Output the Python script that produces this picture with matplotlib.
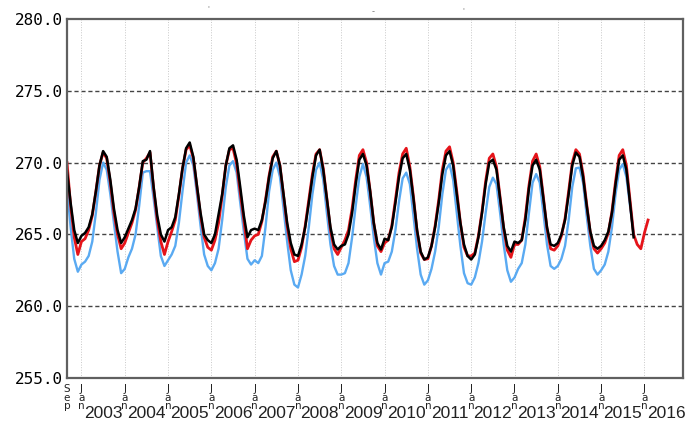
import matplotlib
matplotlib.use("Agg")
import matplotlib.pyplot as plt
import numpy as np

# monthly values, first point = Sep 2002
black_vals = [
    269.4, 267.2, 265.3, 264.4,
    264.9, 265.1, 265.5, 266.4, 268.0, 269.8, 270.8, 270.4, 268.8, 266.8, 265.3, 264.4,
    264.8, 265.4, 266.0, 266.8, 268.3, 270.1, 270.2, 270.8, 268.3, 266.3, 265.0, 264.5,
    265.3, 265.5, 266.2, 267.8, 269.6, 271.0, 271.4, 270.4, 268.4, 266.5, 265.0, 264.6,
    264.4, 265.0, 266.4, 267.8, 269.8, 271.0, 271.2, 270.2, 268.3, 266.3, 264.8, 265.3,
    265.4, 265.3, 266.0, 267.3, 269.0, 270.3, 270.8, 269.8, 267.8, 265.8, 264.4, 263.6,
    263.5, 264.3, 265.5, 267.2, 269.0, 270.5, 270.9, 269.5, 267.5, 265.5, 264.3, 263.95,
    264.2, 264.3, 265.0, 266.5, 268.5, 270.2, 270.6, 269.8, 268.0, 265.8, 264.4, 263.95,
    264.7, 264.6, 265.5, 267.2, 269.0, 270.3, 270.6, 269.5, 267.5, 265.3, 263.8, 263.25,
    263.4, 264.2, 265.5, 267.2, 269.2, 270.5, 270.8, 269.8, 267.8, 265.8, 264.3, 263.5,
    263.25, 263.6, 264.8, 266.5, 268.5, 270.0, 270.2, 269.5, 267.5, 265.5, 264.2, 263.8,
    264.5, 264.4, 264.6, 266.0, 268.2, 269.8, 270.2, 269.5, 267.5, 265.5, 264.3, 264.2,
    264.4, 265.0, 266.0, 267.8, 269.8, 270.7, 270.4, 269.0, 267.0, 265.2, 264.2, 264.0,
    264.2, 264.6, 265.2, 266.5, 268.5, 270.2, 270.5, 269.5, 267.2, 264.8,
]

red_vals = [
    270.0, 267.0, 264.8, 263.6,
    264.5, 264.7, 265.3, 266.3, 268.0, 269.8, 270.7, 270.3, 268.6, 266.5, 265.0, 264.0,
    264.4, 265.1, 265.8, 266.7, 268.3, 270.0, 270.3, 270.7, 268.2, 266.0, 264.5, 263.6,
    264.5, 265.2, 266.0, 267.7, 269.6, 270.9, 271.2, 270.3, 268.3, 266.3, 264.8, 264.1,
    263.9, 264.6, 265.8, 267.7, 269.8, 270.9, 271.0, 269.9, 267.9, 266.0, 264.0, 264.6,
    264.9, 265.0, 265.9, 267.4, 269.1, 270.4, 270.8, 269.8, 267.7, 265.6, 264.0, 263.1,
    263.2, 264.1, 265.6, 267.4, 269.2, 270.6, 270.9, 269.6, 267.5, 265.3, 264.0, 263.6,
    264.1, 264.6, 265.3, 266.8, 268.8, 270.5, 270.9, 270.0, 268.0, 265.8, 264.2, 263.8,
    264.4, 264.6, 265.6, 267.4, 269.3, 270.6, 271.0, 269.7, 267.6, 265.2, 263.7, 263.25,
    263.3, 264.2, 265.6, 267.4, 269.5, 270.8, 271.1, 270.0, 268.0, 265.8, 264.1, 263.5,
    263.5, 263.7, 264.9, 266.6, 268.7, 270.3, 270.6, 269.7, 267.6, 265.4, 263.9, 263.4,
    264.3, 264.3, 264.6, 266.2, 268.4, 270.1, 270.6, 269.7, 267.6, 265.4, 264.0, 263.9,
    264.2, 264.9, 266.1, 268.0, 270.0, 270.9, 270.6, 269.2, 267.1, 265.1, 264.0, 263.7,
    264.0, 264.4, 265.1, 266.6, 268.7, 270.5, 270.9, 269.8, 267.4, 265.0, 264.3, 264.0,
    265.1, 266.0,
]

blue_vals = [
    268.3, 265.5, 263.3, 262.4,
    262.9, 263.1, 263.5, 264.5, 266.5, 268.8, 270.0, 269.5, 267.8, 265.8, 263.8, 262.3,
    262.6, 263.4, 264.0, 265.0, 267.0, 269.3, 269.4, 269.4, 267.5, 265.5, 263.5, 262.8,
    263.2, 263.6, 264.2, 265.8, 268.0, 270.0, 270.5, 269.8, 267.8, 265.6, 263.6, 262.8,
    262.5, 263.0, 264.0, 266.0, 268.3, 269.8, 270.1, 269.3, 267.2, 265.2, 263.3, 262.9,
    263.2, 263.0, 263.5, 265.5, 268.0, 269.5, 270.0, 269.0, 266.8, 264.5, 262.5, 261.5,
    261.3, 262.2, 263.5, 265.5, 267.8, 269.5, 270.0, 268.8, 266.5, 264.3, 262.8, 262.2,
    262.2, 262.3, 263.0, 264.8, 267.0, 269.0, 269.9, 269.0, 267.0, 264.8, 263.0, 262.2,
    263.0, 263.1, 263.8, 265.3, 267.3, 268.9, 269.3, 268.5, 266.3, 264.0, 262.2, 261.5,
    261.8, 262.6, 263.8, 265.5, 267.8, 269.5, 269.9, 268.8, 266.5, 264.2, 262.3, 261.6,
    261.5, 262.0, 263.0, 264.5, 266.5, 268.3, 268.95, 268.5, 266.5, 264.3, 262.5, 261.7,
    262.0, 262.6, 263.0, 264.3, 266.5, 268.6, 269.2, 268.6, 266.5, 264.3, 262.8, 262.6,
    262.8, 263.3, 264.2, 266.0, 268.3, 269.6, 269.65, 268.6, 266.3, 264.2, 262.6, 262.2,
    262.5, 262.9, 263.8, 265.5, 267.8, 269.5, 269.9, 269.0, 267.0, 265.1,
]

years = list(range(2003, 2017))
y_ticks = [255.0, 260.0, 265.0, 270.0, 275.0, 280.0]


def month_axis(vals):
    # decimal years, starting at Sep 2002
    return 2002 + (8 + np.arange(len(vals))) / 12.0


fig = plt.figure(figsize=(6.88, 4.22), dpi=100)
ax = fig.add_axes([0.0974, 0.1043, 0.8953, 0.8507])

ax.plot(month_axis(blue_vals), blue_vals, color="#5aaaf2", lw=1.7, solid_joinstyle="round")
ax.plot(month_axis(red_vals), red_vals, color="#e5141a", lw=2.0, solid_joinstyle="round")
ax.plot(month_axis(black_vals), black_vals, color="black", lw=1.8, solid_joinstyle="round")

ax.set_xlim(2002 + 8 / 12, 2016.89)
ax.set_ylim(255, 280)

# grid
for yv in [260, 265, 270, 275]:
    ax.axhline(yv, color="#444444", lw=1.0, ls=(0, (3, 2)), zorder=0)
for yr in years:
    ax.axvline(yr, color="#c8c8c8", lw=0.7, ls=":", zorder=0)

for s in ax.spines.values():
    s.set_color("#606060")
    s.set_linewidth(1.6)

ax.set_yticks(y_ticks)
ax.set_yticklabels([f"{v:.1f}" for v in y_ticks], family="DejaVu Sans Mono", fontsize=11.5)
ax.tick_params(axis="y", length=0, pad=3)
ax.set_xticks([])

# x labels: stacked "Jan" at each year start, year in the middle
tr = ax.get_xaxis_transform()
ax.text(2002 + 8 / 12, -0.018, "S\ne\np", transform=tr, ha="center", va="top",
        fontsize=7.5, linespacing=0.8, color="#222222", clip_on=False)
for yr in years:
    ax.text(yr, -0.018, "J\na\nn", transform=tr, ha="center", va="top",
            fontsize=7.5, linespacing=0.8, color="#222222", clip_on=False)
    ax.text(yr + 0.5, -0.098, str(yr), transform=tr, ha="center", va="center",
            fontsize=12.5, family="Liberation Sans", color="#222222", clip_on=False)

# faint leftovers at the top
fig.text(208 / 688, 1 - 8 / 422, "'", fontsize=5, color="#777777", ha="center", va="center")
fig.text(373 / 688, 1 - 12 / 422, "-", fontsize=6, color="#777777", ha="center", va="center")
fig.text(463 / 688, 1 - 10 / 422, "'", fontsize=5, color="#777777", ha="center", va="center")

fig.savefig("out.png", dpi=100)
